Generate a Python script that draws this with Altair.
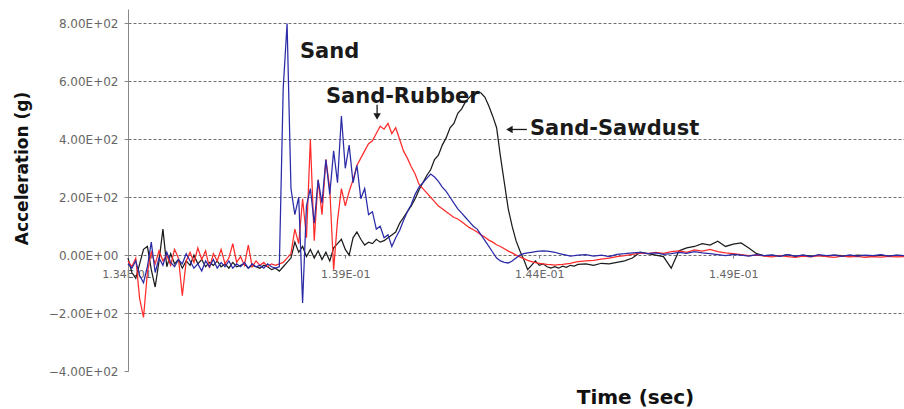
import altair as alt
import pandas as pd

# Sample times (s)
time_s = [
    0.1334, 0.1335, 0.1336, 0.1337, 0.1338, 0.1339,
    0.1340, 0.1341, 0.1342, 0.1343, 0.1344, 0.1345, 0.1346, 0.1347, 0.1348, 0.1349,
    0.1350, 0.1351, 0.1352, 0.1353, 0.1354, 0.1355, 0.1356, 0.1357, 0.1358, 0.1359,
    0.1360, 0.1361, 0.1362, 0.1363, 0.1364, 0.1365, 0.1366, 0.1367, 0.1368, 0.1369,
    0.1370, 0.1371, 0.1372, 0.1373, 0.1374, 0.1375, 0.1376, 0.1377, 0.1378, 0.1379,
    0.1380, 0.1381, 0.1382, 0.1383, 0.1384, 0.1385, 0.1386, 0.1387, 0.1388, 0.1389,
    0.1390, 0.1391, 0.1392, 0.1393, 0.1394, 0.1395, 0.1396, 0.1397, 0.1398, 0.1399,
    0.1400, 0.1401, 0.1402, 0.1403, 0.1404, 0.1405, 0.1406, 0.1407, 0.1408, 0.1409,
    0.1410, 0.1411, 0.1412, 0.1413, 0.1414, 0.1415, 0.1416, 0.1417, 0.1418, 0.1419,
    0.1420, 0.1421, 0.1422, 0.1423, 0.1424, 0.1425, 0.1426, 0.1427, 0.1428, 0.1429,
    0.1430, 0.1431, 0.1432, 0.1433, 0.1434, 0.1435, 0.1436, 0.1437, 0.1438, 0.1439,
    0.1440, 0.1441, 0.1442, 0.1443, 0.1444, 0.1445, 0.1446, 0.1447, 0.1448, 0.1449,
    0.1450,
    0.1452, 0.1454, 0.1456, 0.1458, 0.1460, 0.1462, 0.1464, 0.1466, 0.1468, 0.1470,
    0.1472, 0.1474, 0.1476, 0.1478, 0.1480, 0.1482, 0.1484, 0.1486, 0.1488, 0.1490,
    0.1492, 0.1494, 0.1496, 0.1498, 0.1500, 0.1502, 0.1504, 0.1506, 0.1508, 0.1510,
    0.1512, 0.1514, 0.1516, 0.1518, 0.1520, 0.1522, 0.1524, 0.1526, 0.1528, 0.1530,
    0.1532, 0.1534,
]

# Acceleration (g) - Sand
sand_g = [
    -30, -45, -20, -70, -95, -40, 45, -60, -10, -35,
    10, -25, -40, -15, -30, 5, -20, -45, -30, -55,
    -20, -40, -15, -45, -25, -40, -20, -45, -30, -40,
    -25, -45, -30, -40, -35, -45, -30, -40, -45, -40,
    575, 800, 230, 140, 200, -165, 170, 230, 110, 260,
    180, 330, 210, 360, 250, 480, 300, 380, 250, 310,
    195, 230, 140, 150, 90, 100, 60, 70, 30, 60,
    85, 120, 150, 175, 210, 235, 250, 265, 280, 270,
    255, 235, 220, 200, 180, 160, 145, 130, 115, 100,
    90, 70, 50, 30, 10, -10, -20, -25, -27, -20,
    -10, 0, 5, 8, 10, 12, 14, 15, 14, 12,
    10, 6, 3, 0, -3, -2, 0,
    2, -3, 0, -5, 3, 5, 8, 10, 5, 8,
    3, 5, 10, 6, 12, 8, 5, 2, -2, 3,
    0, -3, 2, -2, 0, -4, 2, -3, 0, -5,
    2, -2, 0, -4, 1, -3, 0, -2, 2, -3,
    0, -2,
]

# Acceleration (g) - Sand-Rubber
sand_rubber_g = [
    -20, -40, -10, -150, -215, -60, 10, -30, 15, -20,
    0, -35, 20, -10, -140, -20, 10, -25, 25, -15,
    15, -45, 5, -20, 20, -30, -10, 40, -25, -5,
    -35, 35, -40, -20, -35, -25, -40, -30, -35, -30,
    -25, -10, 5, 90, 40, 195, 60, 400, 50, 260,
    140, 330, 230, -50, 120, 230, 170, 220, 260, 310,
    335, 360, 385, 395, 420, 445, 435, 455, 420, 440,
    400, 360, 335, 305, 280, 245, 230, 215, 200, 185,
    170, 160, 150, 140, 130, 125, 115, 105, 95, 88,
    80, 70, 62, 52, 45, 36, 30, 22, 14, 8,
    0, -6, -12, -18, -22, -26, -28, -30, -32, -33,
    -34, -33, -32, -30, -28, -25, -22,
    -20, -18, -14, -10, -5, -2, 3, 8, 5, 10,
    6, 12, 15, 10, 18, 14, 20, 12, 8, 5,
    2, -2, 0, -3, -6, -2, -5, -8, -3, -6,
    -2, -5, -8, -3, -6, -4, -8, -5, -7, -4,
    -6, -5,
]

# Acceleration (g) - Sand-Sawdust
sand_sawdust_g = [
    -10, -60, -80, -30, 20, 30, -50, -110, -20, 90,
    -40, 5, -30, -15, -45, -20, -35, 0, -30, -15,
    -40, -25, -35, -20, -40, -30, -45, -25, -40, -35,
    -30, -45, -35, -40, -45, -35, -40, -50, -45, -55,
    -40, -25, -10, 45, 10, 30, -5, 20, -10, 15,
    -15, 10, -20, 25, 40, 55, 20, 0, 60, 80,
    55, 35, 45, 40, 55, 45, 50, 60, 70, 80,
    110, 130, 150, 170, 195, 225, 250, 275, 295, 330,
    345, 380, 405, 440, 455, 490, 505, 530, 545, 560,
    565, 560, 545, 515, 480, 440, 340, 250, 160, 100,
    50, 15, -15, -50, -35, -20, -35, -30, -40, -45,
    -40, -45, -38, -42, -35, -38, -32,
    -30, -35, -28, -30, -25, -20, -10, 10, 5, 0,
    -5, -45, 15, 25, 30, 40, 35, 48, 30, 38,
    42, 25, 5, -2, 0, -3, 2, -4, 0, -3,
    -1, -4, 0, -2, -3, 0, -2, -4, 0, -3,
    -1, -2,
]

series_names = ["Sand", "Sand-Rubber", "Sand-Sawdust"]
series_colors = ["#2b2ba8", "#ff2b2b", "#1c1c1c"]
draw_order = ["Sand-Sawdust", "Sand-Rubber", "Sand"]

y_ticks = [-400, -200, 0, 200, 400, 600, 800]
x_ticks = [0.134, 0.139, 0.144, 0.149]

# Annotation labels (data coordinates)
label_text = ["Sand", "Sand-Rubber", "Sand-Sawdust"]
label_time = [0.13783, 0.13850, 0.14376]
label_accel = [701, 546, 434]

# Arrow pointers (data coordinates)
arrow_time = [0.13982, 0.14323]
arrow_time2 = [0.13982, 0.14368]
arrow_accel = [519, 434]
arrow_accel2 = [488, 434]
arrow_head_accel = [479, 434]
arrow_shape = ["triangle-down", "triangle-left"]

rows = []
for name, vals in zip(series_names, [sand_g, sand_rubber_g, sand_sawdust_g]):
    for t, v in zip(time_s, vals):
        rows.append({"time": t, "accel": v, "series": name})
df = pd.DataFrame(rows)

lab_df = pd.DataFrame({"time": label_time, "accel": label_accel, "text": label_text})
arr_df = pd.DataFrame({
    "time": arrow_time, "time2": arrow_time2,
    "accel": arrow_accel, "accel2": arrow_accel2,
    "head": arrow_head_accel, "shape": arrow_shape,
})

FONT = "DejaVu Sans"
W, H = 776, 362
zero_offset = -(H - H * 850 / 1250)

x_scale = alt.Scale(domain=[0.1334, 0.1534], nice=False, zero=False)
y_scale = alt.Scale(domain=[-400, 850], nice=False, zero=False)

x_axis = alt.Axis(
    values=x_ticks,
    labelExpr="replace(format(datum.value, '.2e'), 'e-', 'E-0')",
    labelFont=FONT, labelFontSize=11, labelColor="#666666",
    labelAlign={"condition": {"test": "datum.value < 0.1345", "value": "right"}, "value": "center"},
    labelPadding=10, labelFlush=False, labelOverlap=False,
    domain=False, grid=False, ticks=True, tickSize=3, tickColor="#888888",
    offset=zero_offset,
    title="Time (sec)", titleFont=FONT, titleFontSize=20, titleFontWeight="bold",
    titleColor="#111111", titleX=507, titleY=142.6, titleAlign="center",
    titleBaseline="middle",
)
y_axis = alt.Axis(
    values=y_ticks,
    labelExpr="replace(format(datum.value, '.2e'), 'e+', 'E+0')",
    labelFont=FONT, labelFontSize=12, labelColor="#666666", labelPadding=6,
    domain=True, domainColor="#888888", ticks=True, tickSize=4, tickColor="#888888",
    grid=True, gridColor="#6f6f6f", gridDash=[3, 2],
    gridOpacity={"condition": {"test": "datum.value == -400", "value": 0}, "value": 1},
    title="Acceleration (g)", titleFont=FONT, titleFontSize=17, titleFontWeight="bold",
    titleColor="#111111", titleX=-106, titleY=159, titleAngle=270,
    titleAlign="center", titleBaseline="middle",
)

layers = []
for i, name in enumerate(draw_order):
    if i == 0:
        enc_x = alt.X("time:Q", scale=x_scale, axis=x_axis)
        enc_y = alt.Y("accel:Q", scale=y_scale, axis=y_axis)
    else:
        enc_x = alt.X("time:Q")
        enc_y = alt.Y("accel:Q")
    layers.append(
        alt.Chart(df).transform_filter(alt.datum.series == name)
        .mark_line(strokeWidth=1.25, interpolate="linear")
        .encode(
            x=enc_x, y=enc_y,
            color=alt.Color("series:N", scale=alt.Scale(domain=series_names, range=series_colors), legend=None),
        )
    )

labels = alt.Chart(lab_df).mark_text(
    align="left", baseline="middle", font=FONT, fontSize=21, fontWeight="bold", color="#1a1a1a"
).encode(x="time:Q", y="accel:Q", text="text:N")

arrow_lines = alt.Chart(arr_df).mark_rule(color="#1a1a1a", strokeWidth=1.3).encode(
    x="time:Q", x2="time2:Q", y="accel:Q", y2="accel2:Q"
)
arrow_heads = alt.Chart(arr_df).mark_point(filled=True, color="#1a1a1a", size=55, opacity=1).encode(
    x="time:Q", y="head:Q",
    shape=alt.Shape("shape:N", scale=None, legend=None),
)

chart = alt.layer(*layers, labels, arrow_lines, arrow_heads).properties(
    width=W, height=H,
    autosize=alt.AutoSizeParams(type="none"),
    padding={"left": 128, "top": 9, "right": 0, "bottom": 38},
    background="white",
).configure_view(stroke=None)

chart.save("out.html", embed_options={"renderer": "svg", "actions": False})
